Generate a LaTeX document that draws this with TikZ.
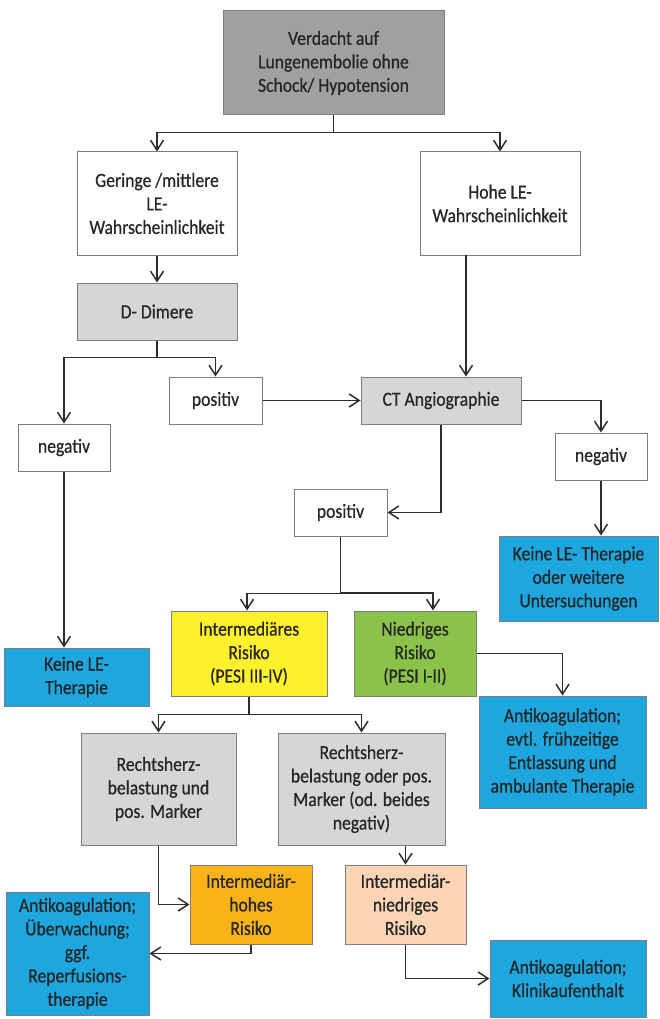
\documentclass[tikz,border=0pt]{standalone}
\usepackage{fontspec}
\setmainfont{Carlito}[FakeStretch=0.88, FakeBold=0.6]
\usetikzlibrary{
    positioning,                      % right=of, below=of, etc.
    arrows.meta,                      % puntas (Straight Barb)
    calc                              % aritmetica de coordenadas
}
\definecolor{gris_oscuro}{RGB}{160,160,160}
\definecolor{gris_claro}{RGB}{214,214,214}
\definecolor{azul_terapia}{RGB}{30,166,222}
\definecolor{amarillo_riesgo}{RGB}{255,241,43}
\definecolor{verde_riesgo}{RGB}{139,195,74}
\definecolor{naranja_riesgo}{RGB}{249,178,24}
\definecolor{rosa_riesgo}{RGB}{251,213,181}
\definecolor{borde}{RGB}{125,125,125}
\definecolor{linea}{RGB}{45,45,45}
\tikzset{
    block/.style={
        rectangle, draw=borde, line width=1pt, fill=white,
        align=center, font=\fontsize{20}{23.5}\selectfont,
        text=black!85, inner sep=2pt
    },
    grey_block/.style={
        block, fill=gris_claro
    },
    therapy/.style={
        block, fill=azul_terapia
    },
    arrow/.style={
        -{Straight Barb[length=10pt,width=13pt]}, draw=linea, line width=1.5pt
    }
}

\begin{document}
\begin{tikzpicture}[x=1pt, y=-1pt]
    \useasboundingbox (0,0) rectangle (659,1019);

    % --- Verdacht und Wahrscheinlichkeit ---
    \node[block, fill=gris_oscuro, minimum width=221pt, minimum height=104pt] (verdacht) at (333.5,63)
        {Verdacht auf\\Lungenembolie ohne\\Schock/ Hypotension};
    \node[block, minimum width=160pt, minimum height=103pt] (geringe) at (157,203.5)
        {Geringe /mittlere\\LE-\\Wahrscheinlichkeit};
    \node[block, minimum width=160pt, minimum height=103pt] (hohe) at (500,203.5)
        {Hohe LE-\\Wahrscheinlichkeit};

    % --- D-Dimere und CT ---
    \node[grey_block, minimum width=160pt, minimum height=57pt] (ddimere) at (157,311.5) {D- Dimere};
    \node[block, minimum width=93pt, minimum height=47pt] (pos_dd) at (215.5,400.5) {positiv};
    \node[block, minimum width=92pt, minimum height=47pt] (neg_dd) at (64,447.5) {negativ};
    \node[grey_block, minimum width=160pt, minimum height=47pt] (ct) at (441,400.5) {CT Angiographie};
    \node[block, minimum width=92pt, minimum height=47pt] (neg_ct) at (601,456.5) {negativ};
    \node[block, minimum width=93pt, minimum height=47pt] (pos_ct) at (340.5,512.5) {positiv};
    \node[therapy, minimum width=159pt, minimum height=85pt] (keine_ct) at (578.5,578.5)
        {Keine LE- Therapie\\oder weitere\\Untersuchungen};
    \node[therapy, minimum width=145pt, minimum height=58pt] (keine_dd) at (76.5,677)
        {Keine LE-\\Therapie};

    % --- Risiko ---
    \node[block, fill=amarillo_riesgo, minimum width=156pt, minimum height=85pt] (intermed) at (249,653.5)
        {Intermediäres\\Risiko\\(PESI III-IV)};
    \node[block, fill=verde_riesgo, minimum width=122pt, minimum height=85pt] (niedrig) at (415,653.5)
        {Niedriges\\Risiko\\(PESI I-II)};
    \node[therapy, minimum width=167pt, minimum height=112pt] (anti_ambulant) at (562.5,752)
        {Antikoagulation;\\evtl. frühzeitige\\Entlassung und\\ambulante Therapie};
    \node[grey_block, minimum width=155pt, minimum height=112pt] (rh_und) at (158.5,789)
        {Rechtsherz-\\belastung und\\pos. Marker};
    \node[grey_block, minimum width=167pt, minimum height=112pt] (rh_oder) at (361.5,789)
        {Rechtsherz-\\belastung oder pos.\\Marker (od. beides\\negativ)};
    \node[block, fill=naranja_riesgo, minimum width=122pt, minimum height=79pt] (im_hoch) at (251,904.5)
        {Intermediär-\\hohes\\Risiko};
    \node[block, fill=rosa_riesgo, minimum width=121pt, minimum height=79pt] (im_niedrig) at (405.5,904.5)
        {Intermediär-\\niedriges\\Risiko};
    \node[therapy, minimum width=143pt, minimum height=123pt] (anti_reperf) at (77.5,953.5)
        {Antikoagulation;\\Überwachung;\\ggf.\\Reperfusions-\\therapie};
    \node[therapy, minimum width=156pt, minimum height=77pt] (anti_klinik) at (568,978.5)
        {Antikoagulation;\\Klinikaufenthalt};

    % --- Flechas ---
    \coordinate (hohe_out) at (466,255);
    \coordinate (pos_split) at (433,593);

    \foreach \dst in {geringe, hohe} {
        \draw[arrow] (verdacht.south) -- ++(0,17) -| (\dst.north);
    }
    \draw[arrow] (geringe) -- (ddimere);
    \foreach \dst in {neg_dd, pos_dd} {
        \draw[arrow] (ddimere.south) -- ++(0,17) -| (\dst.north);
    }
    \draw[arrow] (pos_dd) -- (ct);
    \draw[arrow] (hohe_out) -- (hohe_out |- ct.north);
    \draw[arrow] (ct.east) -| (neg_ct.north);
    \draw[arrow] (neg_ct.south) -- (neg_ct.south |- keine_ct.north);
    \draw[arrow] (ct.south) |- (pos_ct.east);
    \draw[arrow] (neg_dd.south) -- (neg_dd.south |- keine_dd.north);

    \draw[arrow] (pos_ct.south) |- (pos_split) -- (pos_split |- niedrig.north);
    \draw[arrow] (pos_ct.south) -- ++(0,57) -| ([xshift=-2pt]intermed.north);
    \draw[arrow] (niedrig.east) -| (anti_ambulant.north);

    \foreach \dst in {rh_und, rh_oder} {
        \draw[arrow] (intermed.south) -- ++(0,18) -| (\dst.north);
    }
    \draw[arrow] (im_niedrig.north |- rh_oder.south) -- (im_niedrig.north);
    \draw[arrow] (rh_und.south) |- (im_hoch.west);
    \draw[arrow] (im_hoch.south) |- (anti_reperf.east);
    \draw[arrow] (im_niedrig.south) |- (anti_klinik.west);

\end{tikzpicture}
\end{document}
